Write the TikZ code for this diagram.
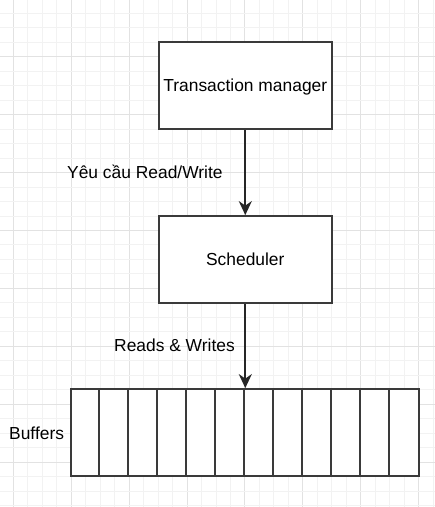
\documentclass[tikz,border=0pt]{standalone}
\usepackage{fontspec}
\setmainfont{Liberation Sans}
\usetikzlibrary{arrows.meta}
\definecolor{gridminor}{HTML}{F2F2F2}
\definecolor{gridmajor}{HTML}{E2E2E2}
\definecolor{strokec}{HTML}{3A3A3A}
\tikzset{
  box/.style={draw=strokec, line width=2.2pt, fill=white, minimum width=172.8pt, minimum height=87pt, inner sep=0pt, text height=12.5pt, text depth=1.9pt},
  lbl/.style={inner sep=0pt, anchor=base west},
  conn/.style={draw=black!85, line width=1.8pt, -{Stealth[length=14pt,width=13pt,inset=4.5pt]}},
  every node/.style={font=\fontsize{17.4}{20}\selectfont}
}
\begin{document}
\begin{tikzpicture}[x=1pt,y=-1pt]
\useasboundingbox (0,0) rectangle (435,507);
\fill[white] (0,0) rectangle (435,507);
% grid
\foreach \k in {0,...,31}{
  \pgfmathsetmacro{\p}{-1.2+14.48*\k}
  \pgfmathtruncatemacro{\m}{mod(\k-1,4)}
  \ifnum\m=0
    \draw[gridmajor, line width=1pt] (\p,0) -- (\p,507);
  \else
    \draw[gridminor, line width=1pt] (\p,0) -- (\p,507);
  \fi
}
\foreach \k in {0,...,36}{
  \pgfmathsetmacro{\p}{-1.2+14.48*\k}
  \pgfmathtruncatemacro{\m}{mod(\k,4)}
  \ifnum\m=0
    \draw[gridmajor, line width=1pt] (0,\p) -- (435,\p);
  \else
    \draw[gridminor, line width=1pt] (0,\p) -- (435,\p);
  \fi
}
% boxes
\node[box] (tm) at (245.3,85.7) {Transaction manager};
\node[box] (sch) at (245.3,259.7) {Scheduler};
\node[draw=strokec, line width=2.2pt, fill=white, minimum width=348pt, minimum height=87pt, inner sep=0pt] (buf) at (245.3,432.7) {};
\foreach \i in {1,...,11}{
  \draw[strokec, line width=2.2pt] ([xshift=29*\i pt]buf.north west) -- ([xshift=29*\i pt]buf.south west);
}
% labels
\node[lbl] (l1) at (67,178) {Yêu cầu Read/Write};
\node[lbl] (l2) at (114,351.7) {Reads \& Writes};
\node[lbl] (l3) at (9,439) {Buffers};
% connectors
\draw[conn] (tm.south) -- (sch.north);
\draw[conn] (sch.south) -- (buf.north);
\end{tikzpicture}
\end{document}
